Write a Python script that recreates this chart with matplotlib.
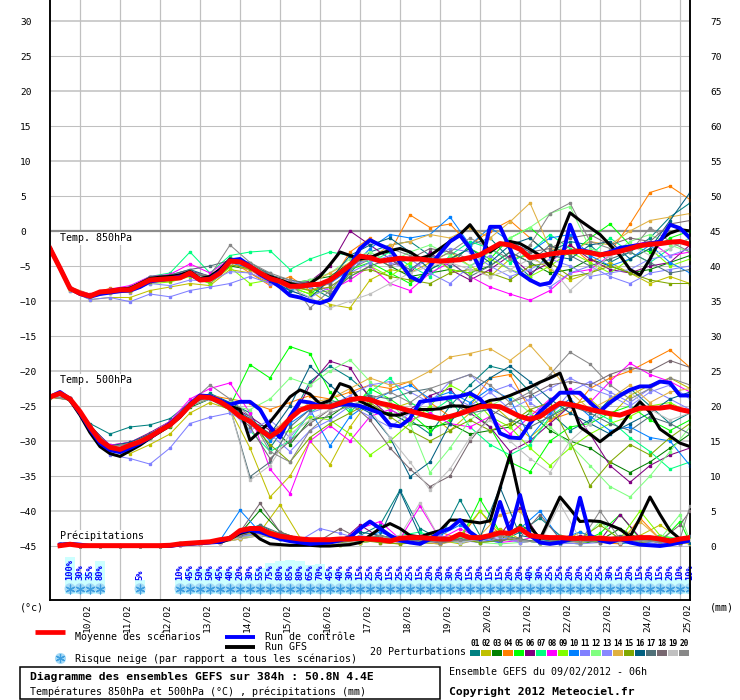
import matplotlib
matplotlib.use('Agg')
import matplotlib.pyplot as plt
from matplotlib.lines import Line2D
from matplotlib.patches import Rectangle
from matplotlib.transforms import ScaledTranslation

plt.rcParams['font.family'] = ['DejaVu Sans Mono', 'DejaVu Sans']

# time grids (hours after 09/02/2012 06h)
hours6 = list(range(0, 385, 6))
hours12 = list(range(0, 385, 12))
p_hours6 = list(range(6, 385, 6))
p_hours12 = list(range(6, 384, 12)) + [384]

days = ['10/02', '11/02', '12/02', '13/02', '14/02', '15/02', '16/02', '17/02',
        '18/02', '19/02', '20/02', '21/02', '22/02', '23/02', '24/02', '25/02']
day_hours = list(range(18, 385, 24))

pert_colors = ['#008080', '#c0c000', '#008000', '#ff8000', '#00ff00', '#800080', '#00ff80',
               '#ff00ff', '#80ff00', '#0080ff', '#8080ff', '#80ff80', '#8888ff', '#e0b040',
               '#80a800', '#005f80', '#507078', '#786870', '#c0c0c0', '#888888']

# ---- temperature 850 hPa ----
t850_mean = [-2.5, -5.3, -8.2, -8.9, -9.3, -8.7, -8.6, -8.4, -8.4, -7.7,
             -7.0, -6.9, -6.8, -6.7, -6.0, -7.0, -6.9, -6.0, -4.3, -4.4,
             -5.1, -6.0, -6.8, -7.2, -7.9, -7.9, -7.7, -7.6, -7.0, -6.0,
             -4.9, -3.6, -3.8, -4.3, -4.1, -3.9, -4.0, -4.0, -4.2, -4.3,
             -4.2, -4.1, -3.8, -3.4, -2.6, -1.8, -2.0, -2.6, -3.8, -3.6,
             -3.3, -3.1, -3.0, -2.9, -3.1, -3.4, -3.2, -2.9, -2.5, -2.1,
             -1.9, -1.8, -1.6, -1.5, -1.9]
t850_ctrl = [-2.5, -5.3, -8.2, -9.0, -9.4, -9.0, -8.8, -8.6, -8.5, -8.0,
             -7.2, -7.0, -6.8, -6.5, -6.2, -7.0, -6.8, -5.8, -4.2, -4.0,
             -5.0, -6.2, -7.0, -8.0, -9.2, -9.5, -10.0, -10.3, -9.8, -7.5,
             -5.0, -2.5, -1.3, -2.0, -2.6, -4.5, -6.5, -7.2, -5.0, -3.2,
             -1.5, -0.6, -2.5, -5.4, 0.6, 0.6, -2.5, -6.0, -7.0, -7.7,
             -7.4, -5.0, 0.9, -2.7, -3.0, -3.4, -3.0, -2.4, -2.2, -2.0,
             -1.8, -1.5, 0.9, 0.4, -1.0]
t850_gfs = [-2.5, -5.3, -8.2, -9.0, -9.2, -8.8, -8.5, -8.3, -8.2, -7.5,
            -6.8, -6.6, -6.5, -6.3, -5.8, -6.8, -6.5, -5.5, -4.0, -4.2,
            -5.2, -6.0, -6.5, -7.0, -7.5, -7.8, -7.5, -6.5, -4.8, -3.0,
            -3.5, -4.0, -3.8, -3.2, -2.8, -2.5, -3.0, -3.9, -3.5, -2.5,
            -1.5, -0.5, 0.9, -1.0, -3.0, -2.0, -1.5, -1.8, -2.6, -3.5,
            -5.1, -1.0, 2.6, 1.5, 0.5, -0.5, -2.0, -3.5, -5.5, -6.3,
            -4.0, -1.3, -0.3, 0.2, 0.0]
t850_perts = [
    [-2.5, -8.3, -9.2, -8.5, -8.0, -6.8, -6.3, -5.5, -6.5, -4.5, -5.0, -6.0, -8.5, -8.0, -9.5, -6.0, -3.0, -2.0, -1.5, -3.5, -5.0, -2.0, -1.0, -4.0, -6.5, -3.0, -1.5, -2.0, -4.5, -3.0, -1.0, 2.0, 4.0],
    [-2.6, -8.5, -9.8, -9.5, -9.5, -8.5, -8.0, -7.5, -7.8, -5.5, -6.0, -7.5, -8.0, -8.5, -10.5, -11.0, -7.0, -5.5, -6.0, -4.5, -3.0, -5.0, -6.5, -4.0, -3.5, -5.5, -7.0, -6.0, -4.5, -6.0, -7.5, -6.5, -7.5],
    [-2.5, -8.2, -9.4, -8.8, -8.6, -7.2, -7.0, -6.2, -7.5, -5.0, -5.5, -7.0, -7.5, -7.0, -6.5, -4.5, -3.5, -5.0, -6.5, -6.0, -5.5, -6.0, -5.0, -3.0, -4.5, -6.0, -5.5, -4.0, -5.0, -6.0, -5.5, -4.5, -3.5],
    [-2.4, -8.0, -9.0, -8.2, -8.2, -7.0, -6.5, -5.8, -6.8, -4.2, -6.0, -7.8, -6.5, -8.5, -7.5, -3.0, -1.0, -3.0, 2.3, 0.5, 1.0, -2.0, 0.0, 1.5, -1.0, -3.5, -2.0, -4.5, -3.0, 1.0, 5.5, 6.4, 4.5],
    [-2.5, -8.3, -9.3, -8.5, -8.3, -6.9, -6.7, -5.9, -6.8, -4.4, -5.2, -6.7, -8.0, -9.0, -7.0, -5.5, -4.5, -6.0, -7.5, -5.5, -4.0, -2.5, -4.0, -1.0, 0.5, -2.0, -3.5, -1.0, 1.0, -2.0, -3.0, -1.0, 0.0],
    [-2.5, -8.1, -9.1, -8.4, -8.1, -6.6, -6.5, -5.7, -6.5, -4.0, -4.8, -6.3, -7.5, -7.2, -5.0, 0.0, -2.0, -4.0, -6.0, -3.0, -5.5, -7.0, -5.5, -3.5, -6.0, -4.5, -2.0, -4.0, -5.5, -6.0, -5.0, -4.5, -2.0],
    [-2.5, -8.2, -9.2, -8.3, -8.0, -6.5, -6.0, -3.0, -6.0, -3.5, -3.0, -2.8, -5.5, -4.0, -3.0, -3.5, -4.5, -3.0, -5.0, -6.5, -3.5, -1.5, -2.5, -4.5, -3.0, -0.5, -2.5, -3.5, -1.0, -3.0, -4.5, -2.5, -1.0],
    [-2.5, -8.2, -9.0, -8.3, -7.8, -6.5, -6.2, -4.7, -6.0, -4.0, -5.5, -7.5, -8.0, -7.5, -8.5, -7.0, -5.0, -7.5, -8.5, -6.0, -4.5, -6.5, -8.0, -9.0, -9.9, -8.5, -6.0, -5.5, -3.5, -2.0, -1.5, -3.5, -3.0],
    [-2.5, -8.3, -9.5, -8.8, -8.5, -7.5, -7.3, -6.5, -7.5, -5.2, -7.5, -7.0, -8.0, -9.0, -8.5, -6.5, -5.0, -6.5, -4.5, -3.5, -5.5, -6.0, -4.0, -5.5, -6.5, -5.0, -3.0, -4.5, -6.0, -4.0, -2.5, -5.0, -4.0],
    [-2.5, -8.2, -9.3, -8.6, -8.3, -6.9, -6.6, -5.9, -7.0, -4.5, -5.3, -7.0, -8.5, -7.8, -7.5, -5.5, -2.5, -0.5, -1.0, -0.5, 2.0, -2.0, 0.5, -1.5, -3.0, -1.0, -0.5, -3.5, -5.0, -4.0, -2.0, -4.5, -6.0],
    [-2.4, -8.5, -9.8, -9.5, -10.1, -9.0, -9.4, -8.5, -8.0, -7.5, -6.5, -7.5, -8.5, -9.5, -8.0, -6.0, -4.5, -3.5, -4.0, -6.0, -7.5, -5.0, -3.5, -5.5, -7.0, -8.0, -6.0, -5.0, -6.5, -7.5, -6.0, -5.5, -5.0],
    [-2.5, -8.2, -9.1, -8.4, -8.2, -6.8, -6.7, -6.2, -6.8, -4.0, -4.5, -6.5, -7.5, -7.0, -6.0, -4.0, -3.0, -4.5, -3.0, -2.0, -3.5, -5.0, -3.0, -1.0, 0.5, 2.5, 3.5, -2.5, -3.5, -1.5, -0.5, -2.0, -3.0],
    [-2.5, -8.0, -9.2, -8.7, -8.8, -7.5, -7.8, -7.0, -7.2, -5.8, -6.0, -7.2, -7.0, -8.0, -7.5, -5.0, -4.0, -4.5, -5.5, -4.0, -2.5, -3.0, -5.0, -6.5, -5.5, -4.0, -5.0, -6.5, -6.0, -5.5, -4.0, -3.5, -2.5],
    [-2.6, -8.4, -9.4, -8.9, -8.7, -7.3, -7.2, -6.4, -7.2, -4.7, -5.6, -7.2, -8.0, -7.5, -6.0, -4.5, -4.0, -2.0, -1.5, -0.5, -1.0, 0.5, -1.0, 1.3, 4.0, -2.5, -3.0, -1.5, -2.0, 0.0, 1.5, 2.0, 2.5],
    [-2.5, -8.3, -9.2, -8.7, -8.6, -7.3, -7.1, -6.3, -7.1, -4.8, -5.4, -7.0, -7.8, -8.5, -8.0, -6.0, -5.5, -6.5, -7.0, -7.5, -6.0, -5.5, -6.0, -7.0, -5.0, -4.5, -6.5, -6.0, -5.0, -6.0, -7.0, -7.5, -7.5],
    [-2.5, -8.2, -9.2, -8.4, -8.1, -6.7, -6.5, -5.8, -6.7, -4.3, -5.2, -7.1, -8.5, -9.5, -7.0, -3.5, -2.0, -1.0, -3.0, -5.5, -4.0, -2.5, -4.5, -2.0, -1.0, -3.5, -4.0, -2.0, -1.5, -4.0, -2.5, 1.5, 5.5],
    [-2.5, -8.2, -9.3, -8.5, -8.2, -6.5, -6.3, -5.5, -5.0, -4.2, -4.5, -6.3, -7.0, -7.5, -9.0, -6.5, -5.0, -4.0, -5.5, -3.5, -4.5, -6.5, -5.0, -3.0, -4.5, -2.0, -3.5, -5.0, -4.0, -3.0, -4.5, -6.0, -5.5],
    [-2.5, -8.1, -9.1, -8.4, -8.0, -6.7, -6.6, -6.0, -6.6, -4.3, -4.9, -6.4, -7.4, -7.6, -7.5, -5.0, -3.5, -5.0, -4.0, -2.5, -3.0, -4.0, -2.5, -1.5, -3.0, -2.5, -1.0, -0.5, -2.0, -1.0, -1.5, 1.0, 1.5],
    [-2.5, -8.3, -9.2, -8.6, -8.4, -7.0, -6.7, -6.0, -7.0, -4.5, -5.0, -6.5, -8.0, -9.5, -11.0, -10.0, -9.0, -7.5, -6.0, -5.0, -4.5, -5.5, -6.5, -5.5, -4.0, -5.0, -8.5, -6.0, -3.5, -2.0, -3.5, -2.5, -1.0],
    [-2.5, -8.2, -9.3, -8.6, -8.3, -6.9, -6.6, -5.9, -6.4, -2.0, -4.5, -6.0, -7.0, -11.0, -8.5, -5.5, -4.0, -2.5, -3.5, -4.5, -3.0, -1.0, -2.5, -4.0, -2.0, 2.5, 4.0, -1.5, -2.5, -3.0, 0.5, -1.5, -3.0],
]

# ---- temperature 500 hPa ----
t500_mean = [-23.7, -23.2, -24.0, -25.8, -28.0, -29.9, -30.9, -31.2, -30.6, -30.1,
             -29.4, -28.5, -27.7, -26.4, -24.9, -23.7, -23.8, -24.4, -25.3, -26.5,
             -27.2, -28.4, -29.4, -28.4, -26.8, -25.6, -25.1, -25.1, -25.1, -24.6,
             -24.1, -23.9, -24.1, -24.6, -24.9, -25.3, -25.7, -26.1, -26.5, -26.8,
             -26.5, -26.1, -25.6, -25.1, -25.0, -25.1, -25.8, -26.5, -26.9, -26.5,
             -25.5, -24.6, -24.8, -25.1, -25.5, -25.8, -26.1, -26.3, -25.8, -25.3,
             -25.3, -25.3, -25.1, -25.5, -25.8]
t500_ctrl = [-23.7, -23.0, -24.0, -26.0, -28.3, -30.3, -31.3, -31.6, -31.0, -30.3,
             -29.5, -28.5, -27.5, -26.3, -24.7, -23.5, -23.6, -24.2, -24.8, -24.4,
             -24.4, -25.5, -28.0, -29.5, -26.5, -24.3, -24.5, -25.0, -25.2, -24.8,
             -24.8, -25.0, -25.5, -26.0, -27.7, -27.9, -26.8, -24.4, -24.2, -24.0,
             -23.8, -23.6, -23.2, -24.0, -25.6, -28.9, -29.5, -29.6, -27.5, -25.8,
             -24.5, -23.1, -23.1, -23.1, -24.5, -25.8, -24.5, -23.5, -22.7, -22.2,
             -22.2, -21.5, -21.7, -23.5, -23.5]
t500_gfs = [-23.7, -23.2, -24.2, -26.3, -28.8, -30.8, -31.8, -32.2, -31.4, -30.6,
            -29.6, -28.7, -27.8, -26.6, -25.0, -23.8, -23.8, -24.2, -25.0, -25.5,
            -29.9, -28.6, -27.3, -25.5, -23.7, -22.7, -23.3, -24.7, -24.2, -21.8,
            -22.3, -24.3, -25.0, -25.8, -26.3, -26.3, -25.8, -25.5, -25.5, -25.4,
            -25.0, -25.0, -25.2, -24.8, -24.2, -24.0, -23.5, -22.9, -22.3, -21.6,
            -21.0, -20.3, -24.0, -28.0, -29.0, -30.1, -29.0, -28.0, -26.0, -24.4,
            -25.9, -28.3, -29.3, -30.3, -30.8]
t500_perts = [
    [-23.7, -23.8, -27.5, -29.0, -28.0, -27.7, -26.8, -24.5, -23.2, -24.5, -26.0, -31.0, -27.0, -21.5, -19.3, -21.0, -23.5, -25.5, -27.0, -29.0, -25.0, -22.0, -19.3, -20.0, -23.0, -26.0, -28.5, -27.0, -24.0, -22.5, -25.0, -27.5, -26.0],
    [-23.6, -24.2, -28.5, -31.5, -31.8, -30.5, -29.0, -26.0, -24.5, -25.5, -31.0, -38.0, -35.0, -30.0, -33.4, -28.0, -24.0, -25.5, -24.5, -26.0, -28.5, -26.0, -24.5, -27.0, -29.5, -27.0, -25.0, -24.0, -26.5, -23.5, -22.0, -21.0, -22.5],
    [-23.7, -24.0, -28.0, -31.0, -30.8, -29.5, -28.0, -25.2, -24.0, -25.6, -27.5, -28.0, -30.5, -27.0, -26.5, -24.5, -25.5, -26.0, -27.5, -28.0, -27.5, -29.0, -28.5, -28.0, -26.0, -28.5, -30.0, -31.0, -33.0, -34.5, -33.0, -31.0, -29.0],
    [-23.8, -24.1, -28.2, -31.2, -30.5, -29.2, -27.5, -24.8, -23.5, -24.0, -24.5, -25.5, -24.5, -23.5, -24.0, -23.0, -22.0, -22.5, -21.5, -24.5, -26.5, -25.0, -21.0, -20.5, -25.5, -27.0, -26.0, -22.5, -21.0, -20.0, -18.5, -17.0, -19.5],
    [-23.7, -24.0, -27.8, -30.8, -30.4, -29.2, -27.4, -24.6, -23.6, -25.0, -19.1, -21.0, -16.5, -17.5, -23.0, -26.0, -22.5, -24.0, -26.0, -28.5, -27.0, -25.5, -28.0, -33.0, -34.4, -30.0, -28.0, -27.5, -26.0, -25.0, -27.0, -28.5, -27.0],
    [-23.7, -23.9, -27.9, -30.6, -30.2, -28.8, -27.2, -24.5, -23.5, -25.0, -26.5, -28.5, -27.5, -22.0, -18.6, -19.5, -24.0, -26.5, -25.5, -23.5, -22.5, -26.0, -28.0, -31.5, -30.0, -27.5, -25.0, -29.0, -33.5, -35.9, -33.5, -32.0, -31.0],
    [-23.7, -24.0, -28.1, -30.9, -30.5, -29.3, -27.6, -24.8, -23.7, -25.2, -28.5, -31.5, -30.0, -26.0, -24.0, -25.5, -23.0, -21.0, -24.5, -26.0, -24.0, -28.0, -30.5, -32.0, -30.5, -26.5, -24.5, -25.5, -27.0, -29.5, -31.5, -34.0, -33.0],
    [-23.7, -24.0, -27.9, -30.6, -30.2, -29.0, -27.2, -24.0, -22.5, -21.7, -26.0, -34.0, -37.5, -30.0, -27.8, -30.0, -26.5, -25.5, -27.0, -26.0, -27.5, -28.0, -26.5, -29.0, -26.5, -24.0, -22.5, -24.5, -21.5, -18.9, -20.5, -21.5, -23.0],
    [-23.7, -24.1, -28.0, -30.9, -30.7, -29.5, -27.8, -25.0, -23.9, -25.5, -27.5, -29.5, -28.5, -26.5, -27.0, -29.0, -32.0, -30.0, -27.5, -25.0, -22.0, -23.5, -26.5, -28.0, -31.0, -33.5, -31.0, -29.0, -27.5, -26.5, -25.0, -24.5, -26.0],
    [-23.7, -24.0, -28.0, -31.0, -30.6, -29.4, -27.6, -24.8, -23.8, -25.2, -27.0, -30.0, -27.5, -25.5, -30.7, -26.5, -24.5, -23.0, -22.0, -24.0, -23.0, -24.5, -22.5, -24.0, -29.5, -26.0, -24.0, -26.5, -28.5, -28.0, -29.5, -30.0, -33.5],
    [-23.6, -24.2, -28.6, -32.0, -32.5, -33.3, -31.0, -27.5, -26.6, -26.0, -27.5, -29.0, -31.5, -28.5, -27.0, -25.0, -26.5, -28.0, -26.0, -24.0, -23.5, -25.0, -23.0, -22.0, -24.5, -26.5, -23.0, -21.5, -23.0, -24.5, -22.5, -24.0, -25.5],
    [-23.7, -24.0, -28.0, -30.8, -30.3, -29.0, -27.3, -24.5, -23.5, -25.0, -25.5, -24.0, -21.0, -22.0, -20.0, -18.4, -21.5, -24.5, -27.5, -34.5, -31.0, -27.0, -25.0, -23.5, -26.0, -28.0, -30.5, -33.5, -36.5, -38.0, -35.0, -31.5, -28.0],
    [-23.7, -24.1, -28.2, -31.1, -30.8, -29.6, -27.9, -25.0, -24.0, -25.5, -28.5, -27.0, -29.5, -26.0, -25.0, -23.5, -22.0, -21.5, -23.0, -24.5, -21.5, -20.5, -23.0, -25.5, -24.0, -22.5, -21.0, -22.5, -23.5, -25.0, -23.0, -22.0, -24.0],
    [-23.7, -24.0, -27.9, -30.8, -30.4, -29.2, -27.5, -24.6, -23.6, -25.1, -27.0, -29.0, -26.5, -24.5, -24.0, -22.5, -21.0, -22.0, -21.5, -20.0, -18.0, -17.5, -16.8, -18.5, -16.3, -19.5, -23.0, -25.5, -24.0, -22.0, -24.5, -23.0, -22.5],
    [-23.7, -24.1, -28.1, -31.0, -30.7, -29.5, -27.8, -24.9, -23.9, -25.4, -27.3, -30.5, -33.0, -29.5, -27.5, -26.0, -24.5, -26.5, -28.5, -30.0, -28.5, -27.0, -28.5, -27.5, -25.5, -24.5, -30.0, -36.4, -33.0, -30.5, -32.0, -29.5, -27.5],
    [-23.7, -23.9, -27.8, -30.7, -30.2, -29.0, -27.4, -24.6, -23.6, -25.0, -26.8, -29.0, -25.0, -19.3, -22.0, -24.5, -26.0, -29.5, -35.1, -33.0, -27.5, -23.0, -21.0, -19.3, -21.5, -24.0, -26.0, -27.5, -29.0, -27.5, -26.0, -24.0, -23.0],
    [-23.7, -24.0, -28.0, -30.9, -30.5, -29.3, -27.6, -24.8, -23.8, -25.3, -35.1, -33.0, -28.0, -25.5, -24.5, -24.0, -23.5, -24.0, -23.0, -22.5, -24.5, -26.0, -25.5, -27.0, -28.0, -26.5, -25.0, -26.0, -27.5, -28.5, -26.5, -27.5, -29.0],
    [-23.7, -24.0, -28.0, -30.8, -30.4, -29.1, -27.4, -24.7, -23.7, -25.2, -28.0, -32.5, -30.0, -27.5, -25.5, -24.5, -27.0, -31.0, -34.0, -36.5, -35.0, -30.0, -26.5, -24.5, -23.5, -22.0, -21.5, -22.0, -20.5, -19.5, -20.0, -18.5, -19.5],
    [-23.7, -24.0, -28.0, -30.9, -30.6, -29.4, -27.7, -24.9, -23.8, -25.3, -35.6, -33.5, -29.0, -27.0, -25.5, -24.0, -25.5, -29.5, -33.0, -37.0, -34.0, -29.5, -27.0, -30.0, -32.5, -34.5, -30.0, -27.5, -24.5, -23.0, -25.5, -27.0, -26.0],
    [-23.7, -24.0, -27.9, -30.8, -30.4, -29.2, -27.5, -24.6, -22.0, -24.0, -26.5, -31.5, -33.0, -28.5, -26.0, -25.0, -24.0, -23.0, -24.5, -22.5, -21.5, -20.5, -22.0, -24.5, -23.0, -20.5, -17.3, -19.0, -22.0, -24.0, -22.5, -21.0, -22.0],
]

# ---- precipitation (mm) ----
prec_mean = [0.05, 0.25, 0.05, 0.05, 0.05, 0.05, 0.05, 0.05, 0.05, 0.05,
             0.05, 0.1, 0.3, 0.4, 0.5, 0.6, 0.9, 1.1, 2.2, 2.5,
             2.5, 1.8, 1.4, 1.2, 1.0, 0.9, 0.9, 0.9, 1.0, 1.0,
             1.1, 1.0, 0.9, 0.7, 1.1, 1.2, 1.2, 1.1, 1.0, 1.0,
             1.7, 1.2, 1.2, 1.5, 1.9, 1.8, 2.5, 1.5, 1.3, 1.2,
             1.2, 1.1, 1.1, 1.1, 1.1, 1.0, 1.0, 1.1, 1.2, 1.2,
             1.0, 0.7, 1.0, 1.2]
prec_ctrl = [0.2, 0.3, 0.2, 0, 0, 0, 0, 0, 0, 0,
             0, 0, 0.2, 0.3, 0.4, 0.5, 0.6, 1.2, 2.0, 2.3,
             2.0, 1.5, 1.0, 0.7, 0.5, 0.3, 0.4, 0.5, 0.8, 1.2,
             2.5, 3.5, 2.5, 1.5, 0.8, 0.5, 0.3, 1.0, 2.0, 2.5,
             3.7, 2.0, 1.0, 1.5, 6.3, 2.0, 7.3, 1.5, 0.5, 0.3,
             0.5, 1.0, 6.9, 1.5, 0.8, 0.5, 1.0, 0.5, 0.2, 0.1,
             0.0, 0.2, 0.5, 0.8]
prec_gfs = [0.2, 0.3, 0.1, 0, 0, 0, 0, 0, 0, 0,
            0, 0, 0.2, 0.3, 0.4, 0.5, 0.5, 1.0, 1.8, 2.2,
            1.0, 0.3, 0.2, 0.1, 0.1, 0.1, 0.0, 0.0, 0.1, 0.2,
            0.5, 1.5, 2.5, 3.2, 2.5, 1.5, 1.3, 1.8, 2.2, 3.7,
            3.7, 3.5, 3.3, 3.6, 8.3, 13.0, 6.6, 2.8, 1.0, 4.0,
            7.0, 5.3, 3.5, 3.6, 3.5, 3.0, 2.4, 1.3, 4.0, 7.0,
            4.5, 2.2, 1.0, 1.2]
prec_perts = [
    [0.3, 0, 0, 0, 0, 0, 0.3, 0.5, 0.8, 2.0, 3.0, 1.5, 0.8, 0.3, 0.5, 1.5, 3.0, 8.0, 2.5, 1.0, 6.6, 1.5, 0.5, 2.0, 4.0, 1.5, 0.5, 1.0, 0.3, 0.8, 1.5, 0.5, 0.3],
    [0.2, 0, 0, 0, 0, 0, 0.2, 0.3, 0.6, 1.5, 2.0, 5.9, 1.2, 0.5, 0.3, 0.8, 1.0, 0.5, 1.5, 0.8, 0.3, 1.0, 2.5, 1.0, 0.5, 0.3, 2.0, 0.8, 0.5, 1.5, 3.0, 1.0, 0.5],
    [0.2, 0, 0, 0, 0, 0, 0.4, 0.6, 0.7, 1.8, 5.1, 2.0, 1.0, 0.5, 0.2, 0.5, 0.8, 1.2, 0.5, 0.3, 1.0, 0.5, 0.8, 3.0, 1.5, 0.5, 0.3, 0.8, 2.5, 1.0, 0.5, 0.3, 0.5],
    [0.3, 0, 0, 0, 0, 0, 0.2, 0.4, 0.5, 1.2, 2.5, 1.8, 0.6, 0.3, 0.6, 1.2, 0.5, 0.3, 0.8, 2.0, 1.0, 5.0, 1.5, 0.5, 0.8, 1.5, 1.0, 0.5, 0.3, 4.0, 1.0, 0.5, 0.8],
    [0.2, 0, 0, 0, 0, 0, 0.3, 0.5, 0.6, 1.0, 2.0, 1.5, 0.5, 0.2, 0.3, 0.8, 1.5, 0.8, 0.5, 1.2, 0.8, 6.7, 2.0, 0.8, 0.5, 1.0, 0.5, 1.8, 4.5, 1.0, 0.5, 3.5, 0.5],
    [0.3, 0, 0, 0, 0, 0, 0.2, 0.3, 0.5, 1.5, 1.8, 1.2, 0.8, 0.3, 0.5, 3.0, 1.2, 0.5, 0.8, 0.5, 1.2, 0.8, 1.5, 5.5, 1.0, 0.5, 1.5, 0.8, 4.5, 1.2, 0.5, 0.8, 1.5],
    [0.2, 0, 0, 0, 0, 0, 0.3, 0.4, 0.8, 1.2, 2.2, 1.0, 0.5, 0.8, 1.0, 0.5, 0.8, 1.5, 2.0, 0.8, 0.5, 1.0, 1.5, 0.8, 0.5, 1.5, 0.8, 0.5, 1.0, 0.8, 1.5, 1.0, 0.5],
    [0.2, 0, 0, 0, 0, 0, 0.2, 0.3, 0.5, 1.0, 1.5, 1.2, 0.6, 0.5, 0.8, 2.5, 3.5, 1.0, 5.7, 1.0, 2.5, 1.0, 0.5, 0.8, 1.5, 0.5, 1.0, 0.8, 0.5, 1.0, 0.5, 0.3, 0.5],
    [0.2, 0, 0, 0, 0, 0, 0.4, 0.5, 0.7, 1.5, 2.5, 1.5, 0.8, 0.5, 0.3, 0.5, 1.5, 0.8, 1.2, 0.8, 1.5, 5.0, 2.0, 0.8, 0.5, 1.2, 0.5, 0.8, 1.0, 5.0, 1.5, 0.8, 0.5],
    [0.3, 0, 0, 0, 0, 0, 0.3, 0.5, 0.8, 5.1, 2.0, 1.0, 0.5, 0.3, 0.5, 1.0, 2.0, 0.8, 0.5, 1.5, 3.0, 1.0, 0.5, 2.5, 5.0, 1.0, 2.0, 0.8, 0.5, 0.3, 0.8, 0.5, 0.3],
    [0.2, 0, 0, 0, 0, 0, 0.2, 0.4, 0.6, 1.2, 1.8, 1.5, 0.8, 2.5, 1.8, 1.0, 0.5, 0.8, 1.0, 1.5, 0.8, 0.5, 1.0, 0.8, 0.5, 0.3, 0.5, 1.0, 0.8, 0.5, 0.3, 0.5, 1.0],
    [0.2, 0, 0, 0, 0, 0, 0.3, 0.4, 0.5, 1.0, 1.5, 1.0, 0.5, 0.3, 0.2, 0.5, 1.0, 0.8, 0.5, 0.8, 1.2, 0.5, 0.3, 0.5, 0.8, 1.0, 0.5, 3.5, 0.8, 0.5, 1.0, 4.5, 0.8],
    [0.2, 0, 0, 0, 0, 0, 0.3, 0.5, 0.6, 1.3, 2.0, 1.0, 0.6, 0.4, 0.5, 1.5, 1.0, 0.5, 0.8, 1.0, 0.5, 0.8, 1.2, 0.5, 0.8, 0.5, 0.3, 0.5, 1.0, 0.5, 0.8, 0.3, 0.5],
    [0.2, 0, 0, 0, 0, 0, 0.2, 0.3, 0.6, 1.0, 1.8, 1.2, 0.5, 0.3, 0.2, 0.5, 0.8, 1.0, 0.5, 0.3, 0.8, 1.5, 4.5, 5.0, 1.0, 0.8, 0.5, 1.5, 0.8, 3.5, 1.0, 0.5, 0.3],
    [0.2, 0, 0, 0, 0, 0, 0.3, 0.4, 0.7, 1.2, 1.5, 1.0, 0.6, 0.4, 0.5, 0.8, 0.5, 0.3, 0.5, 0.8, 1.0, 0.5, 0.8, 1.0, 0.5, 0.8, 1.0, 3.0, 1.0, 0.5, 0.8, 0.5, 1.0],
    [0.3, 0, 0, 0, 0, 0, 0.3, 0.6, 0.8, 1.5, 2.5, 1.5, 0.8, 0.5, 1.0, 2.0, 1.5, 7.8, 1.5, 1.0, 0.8, 1.2, 8.4, 1.5, 1.0, 0.5, 0.8, 1.0, 0.5, 0.8, 1.2, 0.8, 0.5],
    [0.2, 0, 0, 0, 0, 0, 0.3, 0.4, 0.6, 1.5, 3.0, 1.8, 1.0, 0.5, 0.3, 0.8, 1.5, 1.0, 0.8, 0.5, 1.0, 0.8, 1.5, 1.0, 0.5, 0.8, 1.0, 0.8, 1.5, 1.0, 0.5, 1.0, 1.5],
    [0.2, 0, 0, 0, 0, 0, 0.3, 0.5, 0.8, 2.0, 6.1, 2.0, 1.0, 0.8, 2.5, 1.0, 1.2, 0.8, 1.5, 0.5, 0.8, 1.5, 0.8, 1.2, 4.5, 1.0, 0.8, 0.5, 1.0, 1.5, 0.8, 3.0, 5.0],
    [0.2, 0, 0, 0, 0, 0, 0.2, 0.3, 0.5, 1.2, 1.5, 1.2, 0.8, 0.5, 0.3, 0.8, 1.0, 1.5, 6.2, 1.0, 0.5, 1.0, 1.5, 0.8, 0.5, 6.0, 1.0, 0.8, 0.5, 0.8, 0.5, 1.0, 0.8],
    [0.2, 0, 0, 0, 0, 0, 0.3, 0.5, 0.7, 1.5, 2.5, 1.2, 0.8, 0.5, 0.8, 1.2, 1.5, 0.8, 1.0, 0.5, 0.8, 1.0, 1.5, 0.8, 0.5, 1.0, 0.5, 5.0, 1.0, 0.8, 0.5, 1.0, 5.7],
]

# ---- snow risk (% of scenarios) ----
snow_hours = [12, 18, 24, 30, 54] + list(range(78, 385, 6))
snow_pct = [100, 30, 35, 80, 5,
            10, 45, 50, 50, 45, 40, 20, 30, 55, 75, 80, 85, 80, 65, 70, 45, 40, 30, 15, 25,
            20, 15, 25, 25, 15, 20, 20, 30, 20, 15, 20, 15, 15, 20, 20, 40, 30, 25, 25, 20,
            20, 25, 25, 30, 15, 20, 15, 20, 15, 20, 10, 10]

W, H = 740, 700
fig = plt.figure(figsize=(W / 100, H / 100), dpi=100)
ax = fig.add_axes([50 / W, 100 / H, 640 / W, 600 / H])
ylo, yhi = -52.714, 33.0
ax.set_xlim(0, 384)
ax.set_ylim(ylo, yhi)

# grid
for v in range(-45, 31, 5):
    if v == 0:
        continue
    ax.axhline(v, color='#c0c0c0', lw=1.1 if v % 10 == 0 else 0.75, zorder=0)
ax.axhline(0, color='#8c8c8c', lw=1.6, zorder=0.5)
for h in day_hours:
    ax.axvline(h, color='#c0c0c0', lw=0.9, zorder=0)

# snow risk band: bars, flake markers, percentages
ax.bar(snow_hours, [1.9 + 0.035 * p for p in snow_pct], bottom=-51.9, width=6,
       color='#ccffff', edgecolor='none', zorder=1)
ax.scatter(snow_hours, [-51.1] * len(snow_hours), s=62, marker='o', color='#a6daf6',
           edgecolors='none', zorder=2)
ax.scatter(snow_hours, [-51.1] * len(snow_hours), s=40, marker=(6, 2, 0), color='#3f9fe0',
           linewidths=0.9, zorder=2.5)
for h, p in zip(snow_hours, snow_pct):
    ax.text(h, -49.9, '%d%%' % p, rotation=90, ha='center', va='bottom',
            color='#0000ff', fontsize=6.3, fontweight='bold', zorder=2)

# temperatures
for vals, c in zip(t850_perts, pert_colors):
    ax.plot(hours12, vals, color=c, lw=0.75, marker='s', ms=1.6, zorder=3)
for vals, c in zip(t500_perts, pert_colors):
    ax.plot(hours12, vals, color=c, lw=0.75, marker='s', ms=1.6, zorder=3)
ax.plot(hours6, t850_gfs, color='black', lw=2.2, zorder=4)
ax.plot(hours6, t500_gfs, color='black', lw=2.2, zorder=4)
ax.plot(hours6, t850_ctrl, color='#0000ff', lw=2.8, zorder=5)
ax.plot(hours6, t500_ctrl, color='#0000ff', lw=2.8, zorder=5)
ax.plot(hours6, t850_mean, color='#ff0000', lw=3.6, zorder=6)
ax.plot(hours6, t500_mean, color='#ff0000', lw=3.6, zorder=6)

box = dict(facecolor='white', edgecolor='none', pad=1.0)
ax.text(6, -1.05, 'Temp. 850hPa', fontsize=7.2, va='center', ha='left', bbox=box, zorder=7)
ax.text(6, -21.3, 'Temp. 500hPa', fontsize=7.2, va='center', ha='left', bbox=box, zorder=7)
ax.text(6, -43.6, 'Précipitations', fontsize=7.2, va='center', ha='left', bbox=box, zorder=7)

# precipitation on the right (mm) scale
ax2 = ax.twinx()
ax2.set_ylim(ylo + 45, yhi + 45)
for vals, c in zip(prec_perts, pert_colors):
    ax2.plot(p_hours12, vals, color=c, lw=0.75, marker='s', ms=1.6, zorder=3)
ax2.plot(p_hours6, prec_gfs, color='black', lw=2.2, zorder=4)
ax2.plot(p_hours6, prec_ctrl, color='#0000ff', lw=2.8, zorder=5)
ax2.plot(p_hours6, prec_mean, color='#ff0000', lw=3.6, zorder=6)

# axes, ticks
ax.set_yticks(range(-45, 31, 5))
ax.tick_params(axis='y', length=0, pad=21.6, labelsize=6.8)
for lab in ax.get_yticklabels():
    lab.set_horizontalalignment('left')
ax2.set_yticks(range(0, 76, 5))
ax2.tick_params(axis='y', length=0, pad=14.4, labelsize=6.8)

ax.set_xticks(day_hours)
ax.set_xticklabels(days, rotation=90)
ax.tick_params(axis='x', length=0, pad=2, labelsize=6.8)
shift = ScaledTranslation(0.07, 0, fig.dpi_scale_trans)
for lab in ax.get_xticklabels():
    lab.set_transform(lab.get_transform() + shift)

for a in (ax, ax2):
    a.spines['top'].set_visible(False)
    for s in ('left', 'right', 'bottom'):
        a.spines[s].set_color('black')
        a.spines[s].set_linewidth(1.1)


# ---- legend & captions (figure pixel coords) ----
def fx(px):
    return px / W


def fy(py):
    return 1 - py / H


fig.text(fx(20), fy(607), '(°c)', fontsize=7.2, va='center', ha='left')
fig.text(fx(710), fy(607), '(mm)', fontsize=7.2, va='center', ha='left')

fig.add_artist(Line2D([fx(35), fx(65)], [fy(632), fy(632)], color='#ff0000', lw=3.4,
                      solid_capstyle='butt'))
fig.text(fx(75), fy(637), 'Moyenne des scénarios', fontsize=7.2, va='center', ha='left')
fig.add_artist(Line2D([fx(225), fx(255)], [fy(636.5), fy(636.5)], color='#0000ff', lw=2.8,
                      solid_capstyle='butt'))
fig.text(fx(265), fy(637), 'Run de contrôle', fontsize=7.2, va='center', ha='left')
fig.add_artist(Line2D([fx(225), fx(255)], [fy(646.5), fy(646.5)], color='black', lw=2.8,
                      solid_capstyle='butt'))
fig.text(fx(265), fy(647), 'Run GFS', fontsize=7.2, va='center', ha='left')
fig.add_artist(Line2D([fx(60)], [fy(658)], marker='o', ms=8, color='#a6daf6', lw=0,
                      markeredgewidth=0))
fig.add_artist(Line2D([fx(60)], [fy(658)], marker=(6, 2, 0), ms=6.5, color='#3f9fe0', lw=0,
                      markeredgewidth=0.9))
fig.text(fx(75), fy(659), 'Risque neige (par rapport a tous les scénarios)', fontsize=7.2,
         va='center', ha='left')

fig.text(fx(370), fy(652), '20 Perturbations', fontsize=7.2, va='center', ha='left')
for i, c in enumerate(pert_colors):
    x0 = 470 + 11 * i
    fig.add_artist(Rectangle((fx(x0), fy(656)), 10 / W, 6 / H, facecolor=c,
                             edgecolor='none', transform=fig.transFigure))
    fig.text(fx(x0 + 5), fy(644), '%02d' % (i + 1), fontsize=5.6, fontweight='bold',
             va='center', ha='center')

fig.add_artist(Rectangle((fx(20), fy(699)), 420 / W, 32 / H, facecolor='none',
                         edgecolor='black', lw=1.1, transform=fig.transFigure))
fig.text(fx(30), fy(677), 'Diagramme des ensembles GEFS sur 384h : 50.8N 4.4E',
         fontsize=8.2, fontweight='bold', va='center', ha='left')
fig.text(fx(30), fy(692), 'Températures 850hPa et 500hPa (°C) , précipitations (mm)',
         fontsize=7.2, va='center', ha='left')
fig.text(fx(449), fy(672), 'Ensemble GEFS du 09/02/2012 - 06h', fontsize=7.2,
         va='center', ha='left')
fig.text(fx(449), fy(692), 'Copyright 2012 Meteociel.fr', fontsize=8.2, fontweight='bold',
         va='center', ha='left')

fig.savefig('out.png', dpi=100)
